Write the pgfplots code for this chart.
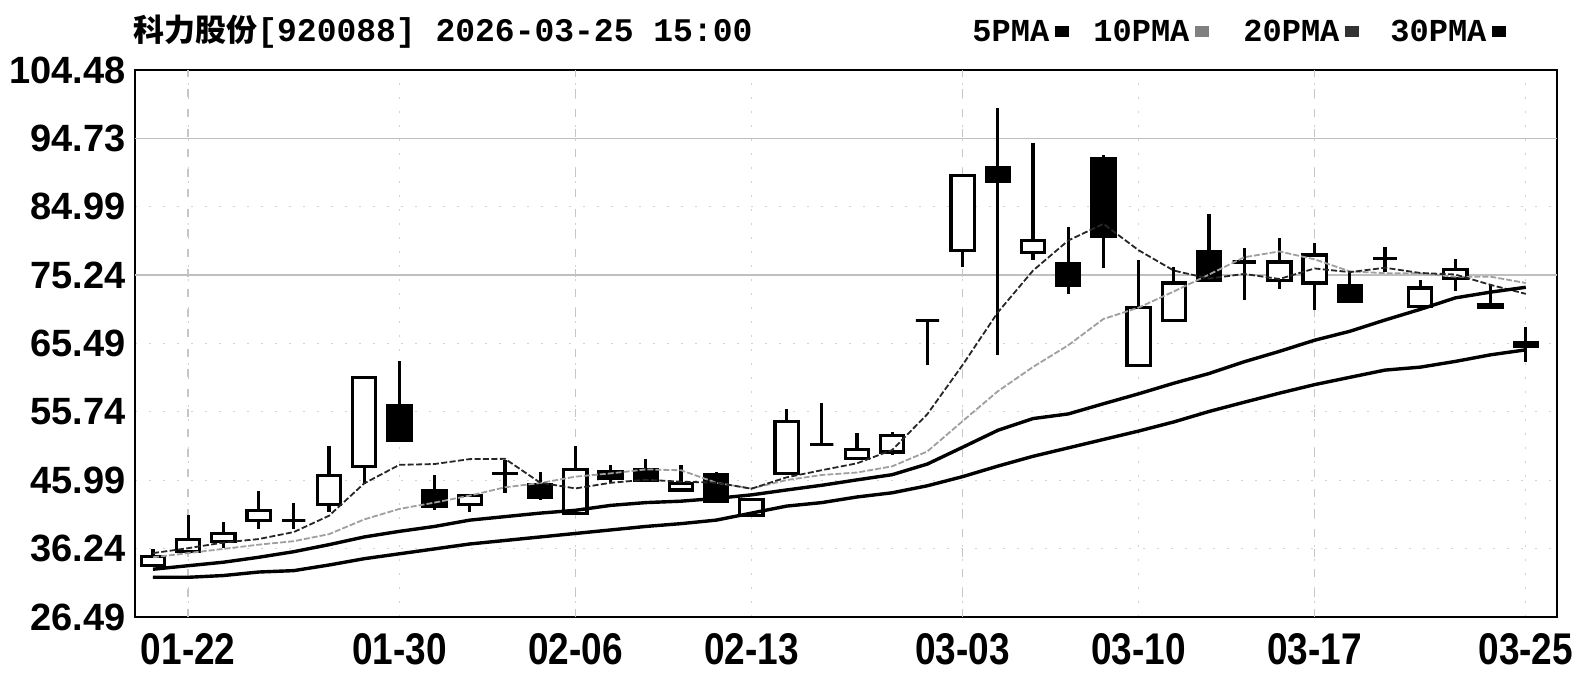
\documentclass[border=0pt]{standalone}
\usepackage{fontspec}
\setmainfont{Liberation Sans}
\newfontfamily\cjk{Noto Sans CJK SC}
\newfontfamily\mono{Liberation Mono}
\usepackage{graphicx}
\usepackage{pgfplots}
\usepackage{pgfplotstable}
\usepgfplotslibrary{statistics}
\pgfplotsset{compat=1.18}

\pgfplotstableread{
x o h l c
1 33.8 36.2 33.7 35.1
2 35.8 41.0 35.6 37.5
3 37.2 40.1 36.3 38.4
4 40.3 44.5 39.1 41.7
5 40.3 42.7 39.1 40.3
6 42.5 50.9 41.4 46.7
7 47.9 60.7 45.5 60.6
8 56.7 63.0 51.6 51.6
9 44.5 46.7 41.8 42.3
10 42.5 43.9 41.4 43.8
11 47.0 48.9 44.2 46.9
12 45.3 47.2 43.2 43.6
13 41.3 50.9 41.1 47.5
14 47.2 48.2 45.6 46.3
15 47.5 49.0 46.0 46.0
16 44.6 48.2 44.6 45.5
17 46.8 47.2 42.9 42.9
18 41.0 43.3 40.9 43.2
19 47.0 56.2 46.8 54.4
20 51.1 57.0 51.0 51.1
21 49.1 52.7 49.1 50.4
22 50.0 52.9 49.6 52.4
23 68.8 68.9 62.4 68.8
24 78.7 89.5 76.4 89.4
25 90.6 99.0 63.8 88.6
26 78.5 94.0 77.4 80.2
27 76.9 82.1 72.5 73.8
28 91.9 92.4 76.2 80.7
29 62.4 77.4 62.3 70.6
30 68.8 76.4 68.8 74.1
31 78.6 84.0 74.3 74.5
32 77.1 79.1 71.7 77.1
33 74.5 80.5 73.3 77.1
34 74.1 79.8 70.3 78.1
35 73.8 75.5 71.4 71.5
36 77.6 79.2 75.7 77.6
37 70.8 74.6 70.8 73.4
38 74.8 77.5 73.0 76.0
39 71.0 73.8 70.6 70.7
40 65.6 67.9 62.9 65.0
}\candles

\pgfplotstableread{
x ma5 ma10 ma20 ma30
1 35.6 35.0 33.3 32.15
2 36.3 35.6 33.8 32.15
3 37.1 36.2 34.3 32.4
4 37.6 36.8 35.0 32.9
5 38.6 37.3 35.8 33.1
6 40.92 38.3 36.8 33.9
7 45.54 40.4 37.9 34.8
8 48.18 41.9 38.7 35.5
9 48.30 42.8 39.4 36.2
10 49.0 43.8 40.3 36.9
11 49.04 44.98 40.8 37.4
12 45.64 45.59 41.3 37.9
13 44.82 46.5 41.7 38.4
14 45.62 46.96 42.4 38.9
15 46.06 47.53 42.8 39.4
16 45.78 47.41 43.0 39.8
17 45.64 45.64 43.4 40.3
18 44.78 44.8 43.9 41.3
19 46.4 46.01 44.6 42.3
20 47.42 46.74 45.27 42.8
21 48.4 47.09 46.04 43.6
22 50.3 47.97 46.78 44.2
23 55.42 50.1 48.3 45.2
24 62.42 54.41 50.69 46.5
25 69.92 58.67 53.1 48.0
26 75.88 62.14 54.78 49.4
27 80.16 65.23 55.44 50.6
28 82.54 68.98 56.89 51.8
29 78.78 70.6 58.31 53.0
30 75.88 72.9 59.82 54.3
31 74.74 75.31 61.2 55.79
32 75.4 77.78 62.88 57.11
33 74.68 78.61 64.36 58.4
34 76.18 77.48 65.95 59.62
35 75.66 75.77 67.22 60.66
36 76.28 75.51 68.83 61.69
37 75.54 75.47 70.35 62.11
38 75.32 75.0 71.99 62.93
39 73.84 75.01 72.81 63.87
40 72.56 74.11 73.5 64.58
}\mas

\newcommand\xl[1]{\scalebox{1}[1.2]{#1}}

\begin{document}
\begin{tikzpicture}
\useasboundingbox (-67.5pt,-28pt) rectangle (720pt,308.5pt);
\begin{axis}[
  scale only axis, width=711pt, height=273.5pt,
  at={(0pt,0pt)}, anchor=south west,
  xmin=0.489, xmax=40.886, ymin=26.49, ymax=104.48,
  axis line style={line width=1.1pt},
  major tick length=0pt,
  ytick={26.49,36.24,45.99,55.74,65.49,75.24,84.99,94.73,104.48},
  yticklabels={26.49,36.24,45.99,55.74,65.49,75.24,84.99,94.73,104.48},
  xtick={2,8,13,18,24,29,34,40},
  xticklabels={\xl{01-22},\xl{01-30},\xl{02-06},\xl{02-13},\xl{03-03},\xl{03-10},\xl{03-17},\xl{03-25}},
  yticklabel style={font=\fontsize{19pt}{19pt}\selectfont\bfseries, inner sep=0pt, anchor=east, xshift=-4.5pt},
  xticklabel style={font=\fontsize{18.5pt}{18.5pt}\selectfont\bfseries, inner sep=0pt, anchor=north, yshift=-8pt},
  ymajorgrids, xmajorgrids,
  major grid style={gray!35, line width=0.6pt, dash pattern=on 1pt off 6pt},
  extra y ticks={75.24,94.73}, extra y tick labels={},
  extra y tick style={major grid style={solid, gray!50, line width=0.8pt}},
  extra x ticks={2,13,24,34}, extra x tick labels={},
  extra x tick style={major grid style={gray!45, line width=0.8pt, dash pattern=on 4pt off 6pt}},
  boxplot/draw direction=y,
  boxplot/box extend=0.66,
  boxplot/whisker extend=0,
]
\pgfplotstablegetrowsof{\candles}
\pgfmathtruncatemacro{\nrows}{\pgfplotsretval-1}
\pgfplotsforeachungrouped \ii in {0,...,\nrows}{%
  \pgfplotstablegetelem{\ii}{x}\of\candles \let\cx\pgfplotsretval
  \pgfplotstablegetelem{\ii}{o}\of\candles \let\co\pgfplotsretval
  \pgfplotstablegetelem{\ii}{h}\of\candles \let\ch\pgfplotsretval
  \pgfplotstablegetelem{\ii}{l}\of\candles \let\cl\pgfplotsretval
  \pgfplotstablegetelem{\ii}{c}\of\candles \let\cc\pgfplotsretval
  \pgfmathsetmacro{\blo}{min(\co,\cc)}%
  \pgfmathsetmacro{\bhi}{max(\co,\cc)}%
  \pgfmathtruncatemacro{\isdown}{\cc<\co ? 1 : 0}%
  \ifnum\isdown=1 \def\bfill{black}\else\def\bfill{white}\fi
  \edef\temp{\noexpand\addplot[draw=black, line width=1.6pt, fill=\bfill, boxplot prepared={draw position=\cx, lower whisker=\cl, lower quartile=\blo, median=\blo, upper quartile=\bhi, upper whisker=\ch}] coordinates {};}%
  \temp
}
\addplot[gray!75, line width=0.9pt, dash pattern=on 3pt off 1pt] table[x=x, y=ma10] {\mas};
\addplot[black!85, line width=0.9pt, dash pattern=on 3pt off 1.2pt] table[x=x, y=ma5] {\mas};
\addplot[black, line width=1.7pt] table[x=x, y=ma20] {\mas};
\addplot[black, line width=1.7pt] table[x=x, y=ma30] {\mas};
\end{axis}
\node[anchor=base west, inner sep=0pt] at (-1pt,287.5pt) {\cjk\fontsize{15.5pt}{16pt}\selectfont\bfseries 科力股份\mono\fontsize{16.5pt}{17pt}\selectfont\bfseries [920088] 2026-03-25 15:00};
\node[anchor=base west, inner sep=0pt] at (418.5pt,287.5pt) {\mono\fontsize{16pt}{16pt}\selectfont\bfseries 5PMA\hspace{3pt}\textcolor{black}{\rule[2.5pt]{7pt}{5.5pt}}};
\node[anchor=base west, inner sep=0pt] at (479pt,287.5pt) {\mono\fontsize{16pt}{16pt}\selectfont\bfseries 10PMA\hspace{3pt}\textcolor{gray}{\rule[2.5pt]{7pt}{5.5pt}}};
\node[anchor=base west, inner sep=0pt] at (554pt,287.5pt) {\mono\fontsize{16pt}{16pt}\selectfont\bfseries 20PMA\hspace{3pt}\textcolor{black!80}{\rule[2.5pt]{7pt}{5.5pt}}};
\node[anchor=base west, inner sep=0pt] at (627.5pt,287.5pt) {\mono\fontsize{16pt}{16pt}\selectfont\bfseries 30PMA\hspace{3pt}\textcolor{black}{\rule[2.5pt]{7pt}{5.5pt}}};
\end{tikzpicture}
\end{document}
